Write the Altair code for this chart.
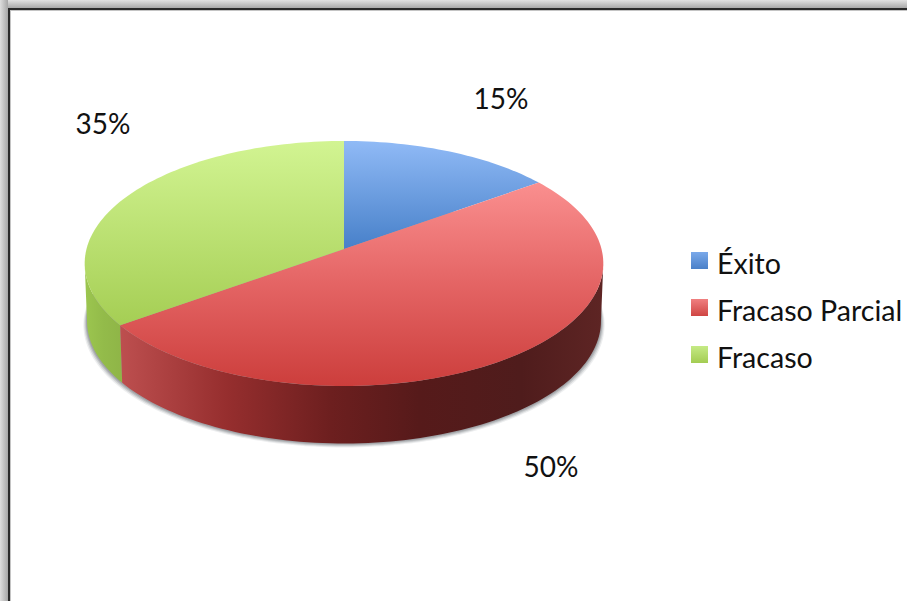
import math
import altair as alt

# Chart values
categories = ["Éxito", "Fracaso Parcial", "Fracaso"]
shares = [15, 50, 35]

# Tilted-disc geometry, in pixels of the 907x601 canvas
CX, CY = 344.0, 249.0
RX, RY, TILT = 257.5, 120.8, 0.118
DEPTH, TAPER = 57.5, 0.991
# Angle at which the rim reaches its widest point on screen
TURN = math.degrees(math.acos(-TILT))


def top_point(theta):
    """Point on the disc's rim; theta in degrees, clockwise from the back."""
    u, v = math.sin(math.radians(theta)), math.cos(math.radians(theta))
    w = 1 + TILT * v
    return [CX + RX * u / w, CY - RY * v / w]


def base_point(theta, grow=0.0, drop=0.0):
    x, y = top_point(theta)
    return [CX + (x - CX) * (TAPER + grow), y + DEPTH + drop]


def arc(a, b, fn=top_point, **kw):
    n = max(2, int(abs(b - a) / 1.5))
    return [fn(a + (b - a) * i / n, **kw) for i in range(n + 1)]


def feature(ring):
    ring = ring + [ring[0]]
    return {"type": "Feature", "properties": {}, "geometry": {"type": "Polygon", "coordinates": [ring]}}


def gradient(stops, horizontal=False):
    return alt.Gradient(
        gradient="linear",
        x1=0, y1=0,
        x2=1 if horizontal else 0,
        y2=0 if horizontal else 1,
        stops=[alt.GradientStop(offset=o, color=c) for o, c in stops],
    )


def shape(ring, **mark):
    return (
        alt.Chart(alt.Data(values=[feature(ring)]))
        .mark_geoshape(strokeWidth=0, stroke="transparent", **mark)
        .project(type="identity", scale=1, translate=[0, 0])
    )


def band(x, x2, y, y2, fill):
    return (
        alt.Chart(alt.Data(values=[{"k": 0}]))
        .mark_rect(fill=fill)
        .encode(x=alt.value(x), x2=alt.value(x2), y=alt.value(y), y2=alt.value(y2))
    )


def label(text, x, y, size, align="center"):
    return (
        alt.Chart(alt.Data(values=[{"t": text}]))
        .mark_text(font="Lato", fontSize=size, color="#111111", align=align, baseline="middle")
        .encode(x=alt.value(x), y=alt.value(y), text="t:N")
    )


# Slice boundaries, clockwise from the back of the disc
edges = [0]
for s in shares:
    edges.append(edges[-1] + s * 3.6)

top_fills = [
    [(0, "#90baf6"), (1, "#4780c9")],
    [(0, "#fa8f8f"), (0.5, "#e46464"), (1, "#cc3e3c")],
    [(0, "#d2f492"), (1, "#a5ce54")],
]

layers = []

# Window frame around the chart area
layers += [
    band(0, 907, 0, 601, "#ffffff"),
    band(0, 907, 0, 8, gradient([(0, "#e2e2e2"), (1, "#a9a9a9")])),
    band(0, 8, 0, 601, gradient([(0, "#dedede"), (1, "#a6a6a6")], horizontal=True)),
    band(8, 907, 8, 10, "#2a2a2a"),
    band(8, 10, 8, 601, "#2a2a2a"),
    band(10, 907, 10, 11, "#c4c4c4"),
    band(10, 11, 10, 601, "#c4c4c4"),
]

# Soft shadow beneath the disc, built from stacked translucent rims
for grow, drop, opacity in [(0.014, 4.0, 0.12), (0.010, 3.0, 0.20), (0.006, 2.0, 0.28), (0.003, 1.0, 0.32)]:
    layers.append(
        shape(arc(0, 360, base_point, grow=grow, drop=drop), fill="#6f7478", opacity=opacity)
    )

# Rim walls: only the front-facing part of each slice is visible
green_wall = arc(edges[2], 360 - TURN) + arc(360 - TURN, edges[2], base_point)
red_wall = arc(TURN, edges[2]) + arc(edges[2], TURN, base_point)
layers.append(shape(green_wall, fill=gradient([(0, "#9cc64f"), (0.5, "#93bb4a"), (1, "#8fb547")], horizontal=True)))
layers.append(
    shape(
        red_wall,
        fill=gradient(
            [(0, "#bd4f4f"), (0.22, "#962e2e"), (0.435, "#6d1f1f"), (0.62, "#561a1a"), (0.83, "#4f1c1c"), (1, "#5e2524")],
            horizontal=True,
        ),
    )
)

# Top face of each slice
for i in range(len(shares)):
    ring = [[CX, CY]] + arc(edges[i], edges[i + 1])
    layers.append(shape(ring, fill=gradient(top_fills[i])))

# Percentage labels
for text, x, y in zip([f"{s}%" for s in shares], [501, 551, 103], [101, 469, 126]):
    layers.append(label(text, x, y, 28))

# Legend
swatches = [
    [(0, "#7aa9ea"), (1, "#4a80c8")],
    [(0, "#f08080"), (1, "#cf4543")],
    [(0, "#c5ea85"), (1, "#a3cc52")],
]
for name, fill, y in zip(categories, swatches, [261, 308, 355]):
    layers.append(band(691, 708, y - 9, y + 8, gradient(fill)))
    layers.append(label(name, 717, y + 4, 28.6, align="left"))

chart = (
    alt.layer(*layers)
    .properties(
        width=907,
        height=601,
        padding=0,
        autosize=alt.AutoSizeParams(type="none"),
        background="#ffffff",
    )
    .configure_view(stroke=None)
)

chart.save("out.html", embed_options={"renderer": "svg", "actions": False})
